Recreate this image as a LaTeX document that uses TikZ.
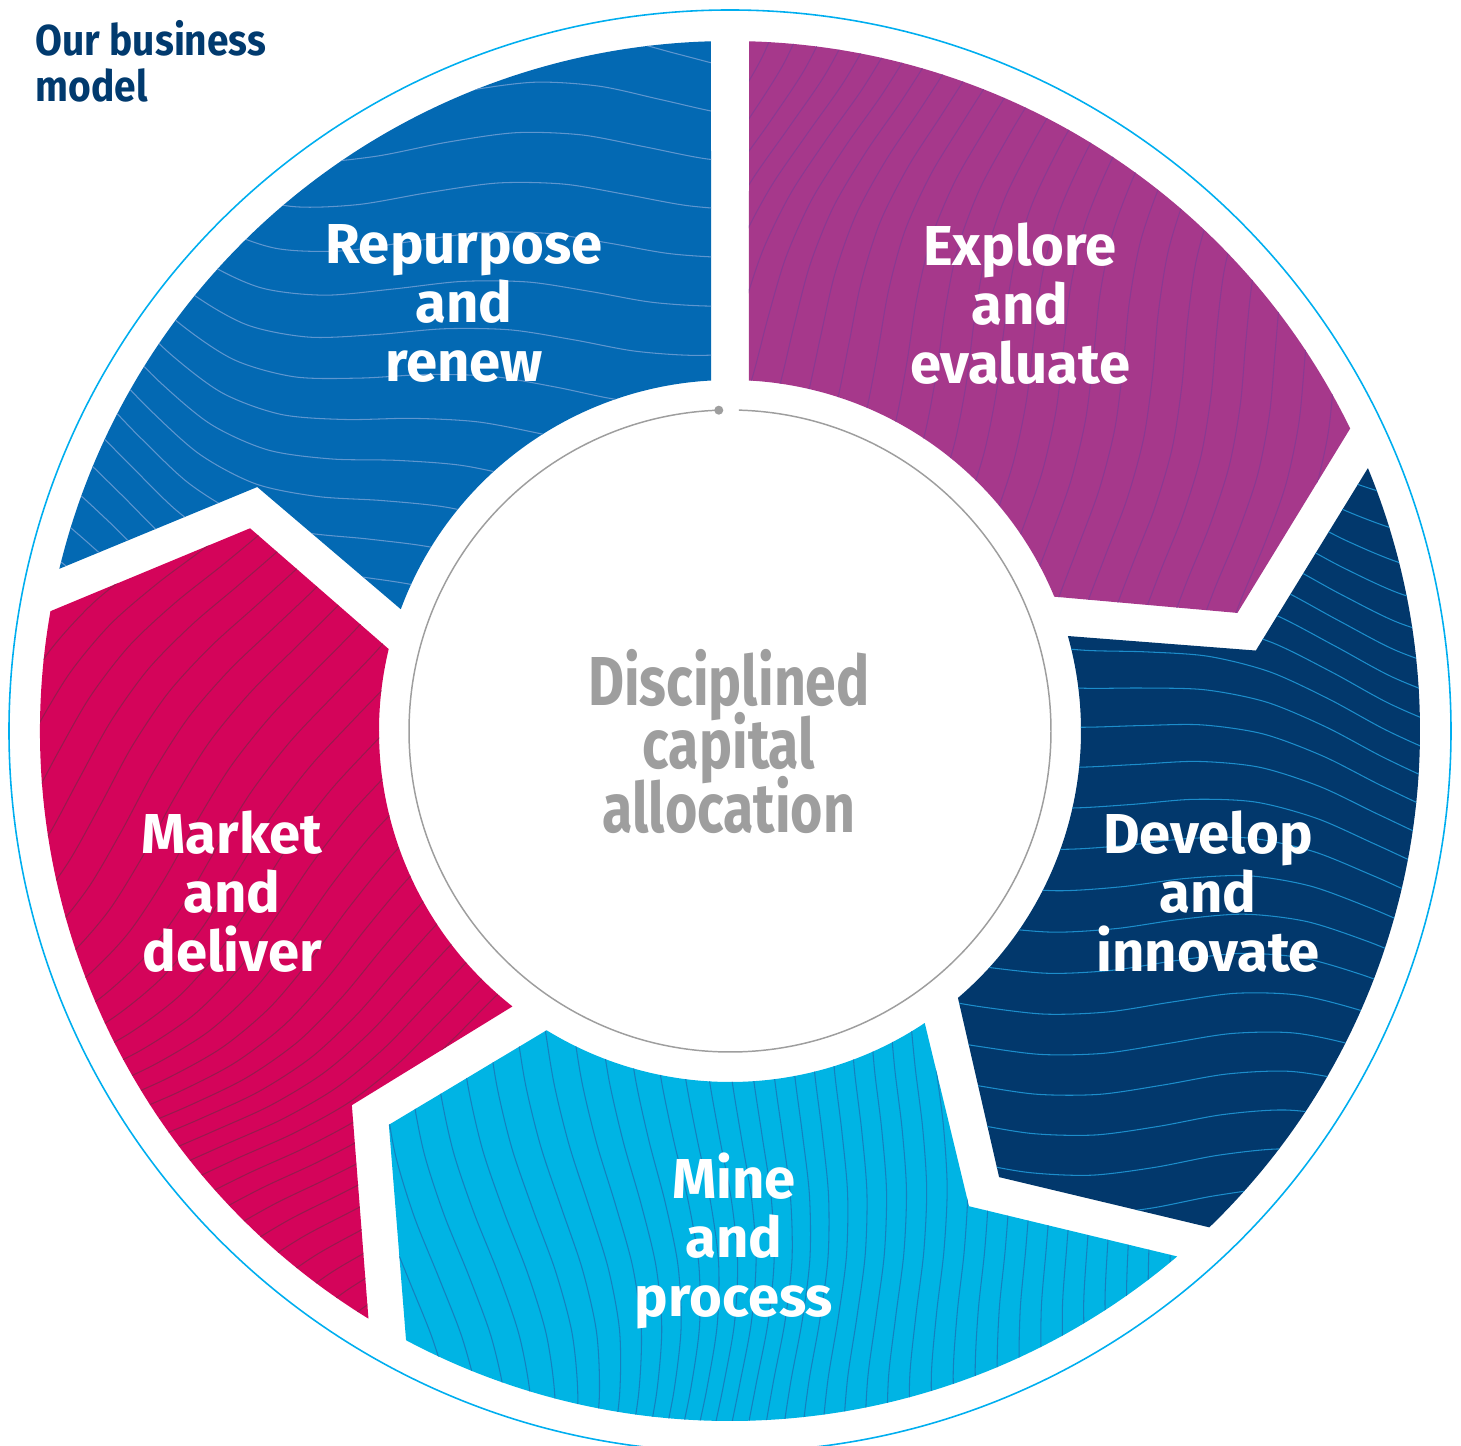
\documentclass[tikz,border=0pt]{standalone}
\usepackage{fontspec}
\setmainfont{Fira Sans}
\newfontfamily\corefont[FakeStretch=0.8]{Fira Sans}
\newfontfamily\titlefont[FakeStretch=0.9]{Fira Sans}
\usepackage{tikz}

\definecolor{explore}{HTML}{A6388B}
\definecolor{explorel}{HTML}{8A3A92}
\definecolor{develop}{HTML}{02386C}
\definecolor{developl}{HTML}{1C8DCB}
\definecolor{mine}{HTML}{00B4E4}
\definecolor{minel}{HTML}{1580BE}
\definecolor{market}{HTML}{D4045A}
\definecolor{marketl}{HTML}{981A4E}
\definecolor{repurpose}{HTML}{0369B3}
\definecolor{repurposel}{HTML}{5E96CF}
\definecolor{titleblue}{HTML}{013A6E}
\definecolor{ringcyan}{HTML}{00AEEF}
\definecolor{coregray}{HTML}{9E9E9E}

% contour texture: angle, spacing, colour, wave height
\newcommand{\contours}[4]{%
  \foreach \k in {-30,...,30}
    \draw[contour,#3,rotate=#1] plot[smooth,domain=-780:780,samples=26]
      (\x,{\k*#2+#4*(1+0.6*sin(7*\k))*sin(0.28*\x+9*\k)
        +0.35*#4*sin(0.85*\x+6*\k)+0.5*#4*sin(0.12*\x+4*\k)});}

\begin{document}
\begin{tikzpicture}
[x=0.01cm,y=0.01cm,
 phase/.style={text=white,font=\bfseries\fontsize{16}{16.8}\selectfont,align=center,inner sep=0pt},
 contour/.style={line width=0.3pt}]
\useasboundingbox (-730,-715) rectangle (731,731);

\draw[ringcyan,line width=0.45pt] (0,0) circle (721);

% explore and evaluate
\begin{scope}
\clip (88.42:690) arc[start angle=88.42,end angle=26,radius=690] -- (13.1:521)
  -- (22.5:351) arc[start angle=22.5,end angle=86.9,radius=351] -- cycle;
\fill[explore] (-760,-760) rectangle (760,760);
\contours{72}{27}{explorel}{30}
\end{scope}

% develop and innovate
\begin{scope}
\clip (22.4:690) arc[start angle=22.4,end angle=-46,radius=690] -- (-58.9:521)
  -- (-49.5:351) arc[start angle=-49.5,end angle=15.7,radius=351] -- (8.7:532) -- cycle;
\fill[develop] (-760,-760) rectangle (760,760);
\contours{-6}{36}{developl}{40}
\end{scope}

% mine and process
\begin{scope}
\clip (-49.6:690) arc[start angle=-49.6,end angle=-118,radius=690] -- (-130.9:521)
  -- (-121.5:351) arc[start angle=-121.5,end angle=-56.3,radius=351] -- (-63.3:532) -- cycle;
\fill[mine] (-760,-760) rectangle (760,760);
\contours{93}{22}{minel}{26}
\end{scope}

% market and deliver
\begin{scope}
\clip (-121.6:690) arc[start angle=-121.6,end angle=-190,radius=690] -- (-202.9:521)
  -- (-193.5:351) arc[start angle=-193.5,end angle=-128.3,radius=351] -- (-135.3:532) -- cycle;
\fill[market] (-760,-760) rectangle (760,760);
\contours{40}{24}{marketl}{30}
\end{scope}

% repurpose and renew
\begin{scope}
\clip (-193.6:690) arc[start angle=-193.6,end angle=-268.42,radius=690]
  -- (-266.9:351) arc[start angle=-266.9,end angle=-200.3,radius=351] -- (-207.3:532) -- cycle;
\fill[repurpose] (-760,-760) rectangle (760,760);
\contours{-20}{40}{repurposel}{48}
\end{scope}

% core
\draw[coregray,line width=0.42pt] (88.4:321) arc[start angle=88.4,end angle=-268,radius=321];
\fill[coregray] (92:321) circle (4.5);

\node[phase] (explore) at (290,427.5) {Explore\\and\\evaluate};
\node[phase] (develop) at (478,-161) {Develop\\and\\innovate};
\node[phase] (mine) at (4,-510) {Mine\\and\\process};
\node[phase] (market) at (-498,-161) {Market\\and\\deliver};
\node[phase] (repurpose) at (-266,427.5) {Repurpose\\and\\renew};
\node[text=coregray,font=\corefont\bfseries\fontsize{19.7}{18}\selectfont,align=center,inner sep=0pt]
  (core) at (-1,-10.5) {Disciplined\\[-3.3pt]capital\\[-3.3pt]allocation};
\node[text=titleblue,font=\titlefont\bfseries\fontsize{12.3}{13}\selectfont,align=left,inner sep=0pt,anchor=north west]
  (title) at (-695,711) {Our business\\model};
\end{tikzpicture}
\end{document}
